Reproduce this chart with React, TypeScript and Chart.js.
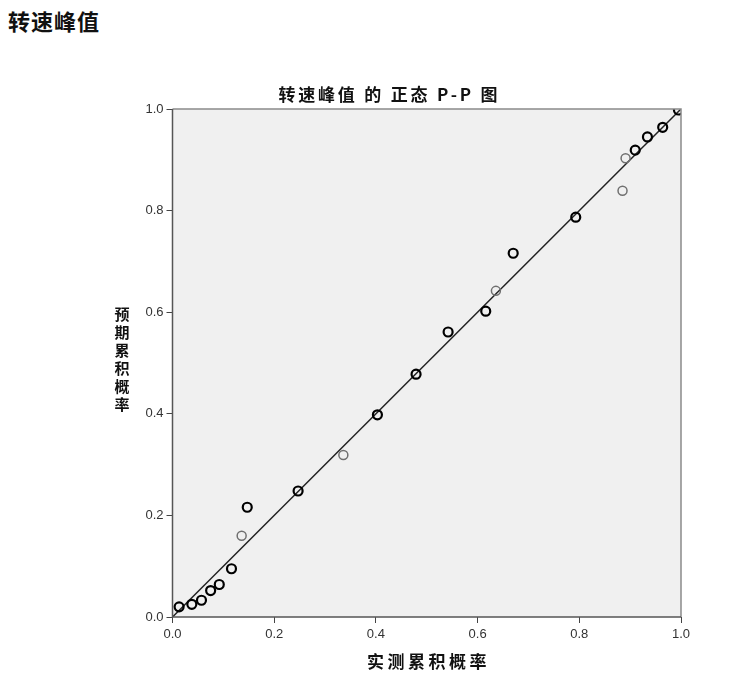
import React, { useEffect, useRef } from "react";
import { Chart, registerables } from "chart.js";

Chart.register(...registerables);

const pageTitle = "转速峰值";
const chartTitle = "转速峰值 的 正态 P-P 图";
const xAxisTitle = "实测累积概率";
const yAxisTitle = "预期累积概率";

// Observed cumulative probability (x) / expected cumulative probability (y)
const darkX = [0.013, 0.038, 0.057, 0.075, 0.092, 0.116, 0.147, 0.247, 0.403, 0.479, 0.542, 0.616, 0.670, 0.793, 0.910, 0.934, 0.964, 0.995];
const darkY = [0.020, 0.025, 0.033, 0.052, 0.064, 0.095, 0.216, 0.248, 0.398, 0.478, 0.561, 0.602, 0.716, 0.787, 0.919, 0.945, 0.964, 0.998];
const lightX = [0.136, 0.336, 0.636, 0.885, 0.891];
const lightY = [0.160, 0.319, 0.642, 0.839, 0.903];
const refLineX = [0, 1];
const refLineY = [0, 1];
const tickValues = [0, 0.2, 0.4, 0.6, 0.8, 1.0];

const W = 740;
const H = 697;

function spacedText(ctx: any, text: string, cx: number, cy: number, spacing: number) {
  ctx.letterSpacing = spacing + "px";
  ctx.fillText(text, cx + spacing / 2, cy);
  ctx.letterSpacing = "0px";
}

const decorPlugin = {
  id: "decor",
  beforeDatasetsDraw(chart: any) {
    const { ctx, chartArea } = chart;
    ctx.save();
    ctx.fillStyle = "#f0f0f0";
    ctx.fillRect(chartArea.left, chartArea.top, chartArea.right - chartArea.left, chartArea.bottom - chartArea.top);
    ctx.restore();
  },
  afterDatasetsDraw(chart: any) {
    const { ctx, chartArea } = chart;
    ctx.save();
    ctx.strokeStyle = "#8a8a8a";
    ctx.lineWidth = 1.5;
    ctx.beginPath();
    ctx.moveTo(chartArea.left, chartArea.top);
    ctx.lineTo(chartArea.right, chartArea.top);
    ctx.lineTo(chartArea.right, chartArea.bottom);
    ctx.stroke();
    ctx.strokeStyle = "#555";
    ctx.beginPath();
    ctx.moveTo(chartArea.left, chartArea.top);
    ctx.lineTo(chartArea.left, chartArea.bottom);
    ctx.lineTo(chartArea.right, chartArea.bottom);
    ctx.stroke();
    ctx.restore();
  },
  afterDraw(chart: any) {
    const { ctx, chartArea } = chart;
    ctx.save();
    ctx.fillStyle = "#111";
    ctx.textAlign = "center";
    ctx.textBaseline = "middle";
    ctx.font = "bold 17px 'Noto Sans CJK SC'";
    spacedText(ctx, chartTitle, 388, 95, 2.8);
    ctx.font = "bold 17px 'Noto Sans CJK SC'";
    spacedText(ctx, xAxisTitle, (chartArea.left + chartArea.right) / 2, 662, 3.5);
    ctx.font = "bold 15px 'Noto Sans CJK SC'";
    const chars = Array.from(yAxisTitle);
    chars.forEach((c, i) => {
      ctx.fillText(c, 122, 314.5 + i * 18);
    });
    ctx.restore();
  },
};

export default function App() {
  const ref = useRef<HTMLCanvasElement | null>(null);

  useEffect(() => {
    if (!ref.current) return;
    const chart = new Chart(ref.current, {
      type: "scatter",
      data: {
        datasets: [
          {
            type: "line",
            data: refLineX.map((x, i) => ({ x, y: refLineY[i] })),
            borderColor: "#222",
            borderWidth: 1.5,
            pointRadius: 0,
            fill: false,
            order: 3,
          } as any,
          {
            data: lightX.map((x, i) => ({ x, y: lightY[i] })),
            pointRadius: 4.5,
            pointBorderWidth: 1.5,
            borderColor: "#707070",
            backgroundColor: "rgba(0,0,0,0)",
            order: 2,
          },
          {
            data: darkX.map((x, i) => ({ x, y: darkY[i] })),
            pointRadius: 4.5,
            pointBorderWidth: 2.2,
            borderColor: "#000",
            backgroundColor: "rgba(0,0,0,0)",
            order: 1,
          },
        ],
      },
      options: {
        responsive: false,
        animation: false,
        devicePixelRatio: 1,
        layout: { padding: { left: 100, right: 59, top: 109, bottom: 25 } },
        plugins: {
          legend: { display: false },
          tooltip: { enabled: false },
          title: { display: false },
        },
        scales: {
          x: {
            type: "linear",
            min: 0,
            max: 1,
            afterBuildTicks: (s: any) => {
              s.ticks = tickValues.map((v) => ({ value: v }));
            },
            afterFit: (s: any) => {
              s.height = 55;
            },
            ticks: {
              callback: (v: any) => Number(v).toFixed(1),
              font: { family: "'Liberation Sans', Arial", size: 13 },
              color: "#333",
              padding: 4,
              maxRotation: 0,
            },
            grid: { drawOnChartArea: false, drawTicks: true, tickLength: 6, color: "#444" },
            border: { display: false },
            title: { display: false },
          },
          y: {
            type: "linear",
            min: 0,
            max: 1,
            afterBuildTicks: (s: any) => {
              s.ticks = tickValues.map((v) => ({ value: v }));
            },
            afterFit: (s: any) => {
              s.width = 72.5;
            },
            ticks: {
              callback: (v: any) => Number(v).toFixed(1),
              font: { family: "'Liberation Sans', Arial", size: 13 },
              color: "#333",
              padding: 3,
            },
            grid: { drawOnChartArea: false, drawTicks: true, tickLength: 6, color: "#444" },
            border: { display: false },
            title: { display: false },
          },
        },
      },
      plugins: [decorPlugin],
    });
    return () => chart.destroy();
  }, []);

  return (
    <div style={{ position: "fixed", left: 0, top: 0, width: W, height: H, background: "#fff" }}>
      <div
        style={{
          position: "absolute",
          left: 8,
          top: 4,
          fontFamily: "'Noto Sans CJK SC'",
          fontWeight: "bold",
          fontSize: 22,
          lineHeight: "32px",
          letterSpacing: 1,
          color: "#111",
        }}
      >
        {pageTitle}
      </div>
      <canvas ref={ref} width={W} height={H} style={{ position: "absolute", left: 0, top: 0, width: W, height: H }} />
    </div>
  );
}
